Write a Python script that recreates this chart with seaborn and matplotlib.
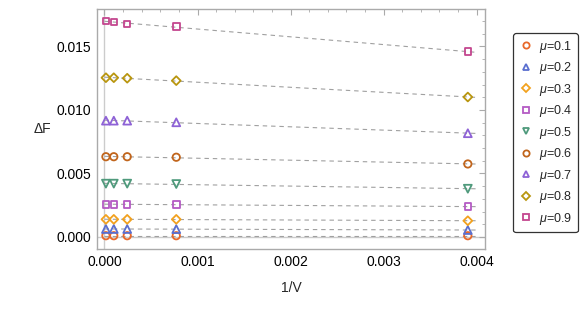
import numpy as np
import pandas as pd
import matplotlib
matplotlib.use("Agg")
import matplotlib.pyplot as plt
from matplotlib.ticker import AutoMinorLocator, MultipleLocator
from matplotlib.lines import Line2D
import seaborn as sns

sns.set_style("white")
plt.rcParams['font.family'] = ['Liberation Sans', 'DejaVu Sans']
plt.rcParams['mathtext.fontset'] = 'custom'
plt.rcParams['mathtext.it'] = 'Liberation Sans:italic'
plt.rcParams['mathtext.rm'] = 'Liberation Sans'

# data
inv_volume = [1/65536, 1/10000, 1/4096, 1/1296, 1/256]
mu_labels = ["0.1", "0.2", "0.3", "0.4", "0.5", "0.6", "0.7", "0.8", "0.9"]
dF_01 = [0.00010, 0.00010, 0.00010, 0.00010, 0.00010]
dF_02 = [0.00063, 0.00063, 0.00063, 0.00062, 0.00055]
dF_03 = [0.00139, 0.00139, 0.00139, 0.00139, 0.00128]
dF_04 = [0.00257, 0.00257, 0.00257, 0.00257, 0.00239]
dF_05 = [0.00420, 0.00420, 0.00420, 0.00417, 0.00380]
dF_06 = [0.00632, 0.00632, 0.00632, 0.00628, 0.00575]
dF_07 = [0.00916, 0.00916, 0.00916, 0.00903, 0.00817]
dF_08 = [0.01254, 0.01254, 0.01250, 0.01231, 0.01102]
dF_09 = [0.01701, 0.01693, 0.01675, 0.01656, 0.01459]
series = [dF_01, dF_02, dF_03, dF_04, dF_05, dF_06, dF_07, dF_08, dF_09]

colors = ["#E8692B", "#5A6FCF", "#F2A11E", "#B45AC4", "#4F9A7C",
          "#C1651C", "#8E62D6", "#B9960F", "#C4468F"]
markers = ["o", "^", "D", "s", "v", "o", "^", "D", "s"]
msizes = [28, 32, 20, 22, 32, 28, 32, 20, 22]

fig = plt.figure(figsize=(5.81, 3.19), dpi=100)
ax = fig.add_axes([97/581, 1-249/319, (485-97)/581, (249-9)/319])

ax.axhline(0, color="#cccccc", lw=1.0, zorder=0)
ax.axvline(0, color="#cccccc", lw=1.0, zorder=0)

xfit = np.array([0.0, 0.004])
handles = []
for lab, ys, c, m, s in zip(mu_labels, series, colors, markers, msizes):
    p = np.polyfit(inv_volume, ys, 1)
    sns.lineplot(x=xfit, y=np.polyval(p, xfit), ax=ax, color="#a0a0a0",
                 lw=0.8, linestyle=(0, (4, 3.5)), zorder=1)
    df = pd.DataFrame({"x": inv_volume, "y": ys})
    sns.scatterplot(data=df, x="x", y="y", ax=ax, marker=m, s=s,
                    facecolor="none", edgecolor=c, linewidth=1.3, zorder=3)
    handles.append(Line2D([], [], linestyle="none", marker=m, markersize=np.sqrt(s)*0.85,
                          markerfacecolor="none", markeredgecolor=c, markeredgewidth=1.3,
                          label=r"$\mu$=" + lab))

ax.set_xlim(-0.0000806, 0.004091)
ax.set_ylim(-0.000945, 0.01795)
ax.xaxis.set_major_locator(MultipleLocator(0.001))
ax.yaxis.set_major_locator(MultipleLocator(0.005))
ax.xaxis.set_minor_locator(AutoMinorLocator(5))
ax.yaxis.set_minor_locator(AutoMinorLocator(5))
ax.xaxis.set_major_formatter(matplotlib.ticker.FormatStrFormatter("%.3f"))
ax.yaxis.set_major_formatter(matplotlib.ticker.FormatStrFormatter("%.3f"))
ax.tick_params(which="both", direction="in", top=True, right=True,
               color="#aaaaaa", labelsize=10, labelcolor="black", pad=4)
ax.tick_params(which="major", length=4, width=0.8)
ax.tick_params(which="minor", length=2, width=0.6)
for sp in ax.spines.values():
    sp.set_color("#aaaaaa")
    sp.set_linewidth(1.0)

ax.set_xlabel("1/V", fontsize=10, labelpad=9)
ax.set_ylabel("ΔF", fontsize=10, rotation=0, labelpad=10, va="center")

leg = fig.legend(handles=handles, loc="upper left", bbox_to_anchor=(513/581, 1-33/319),
                 fontsize=9, frameon=True, fancybox=True, edgecolor="black",
                 labelspacing=0.44, handletextpad=0.5, handlelength=1.1,
                 borderpad=0.45, borderaxespad=0.0)
leg.get_frame().set_linewidth(0.9)

fig.savefig("out.png", dpi=100)
